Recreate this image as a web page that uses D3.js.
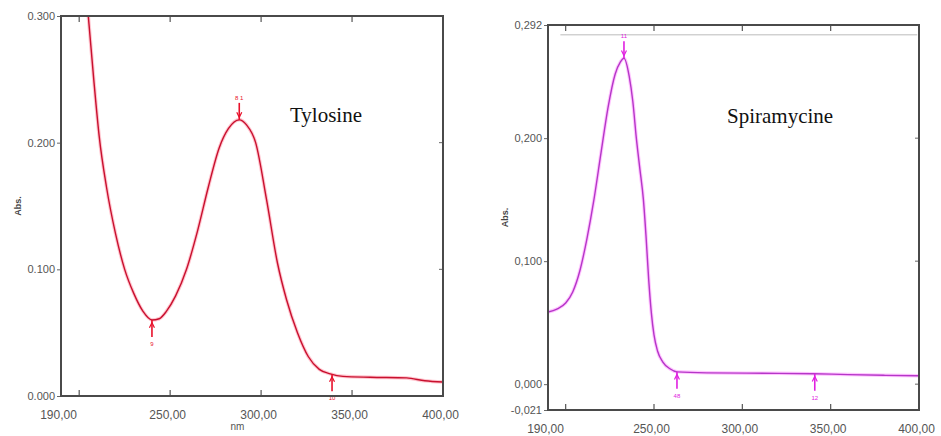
<!DOCTYPE html>
<html><head><meta charset="utf-8">
<script src="https://cdn.jsdelivr.net/npm/d3@7/dist/d3.min.js"></script>
<style>
body{margin:0;background:#fff;}
svg{display:block;}
.tick text{font-family:Arial,"Liberation Sans",sans-serif;fill:#555;}
</style></head>
<body>
<svg id="c" width="941" height="436"></svg>
<script>
// ---- data ----
const xTicks = [190, 250, 300, 350, 400];
const xMinorTicks = [200, 250, 300, 350];

const tylNm  = [200, 205, 208, 211, 215, 220, 225, 230, 235, 240, 244, 248, 253, 259, 265, 271, 277, 282, 288, 292, 297, 303, 309, 314, 320, 326, 332, 338, 345, 360, 380, 390, 400];
const tylAbs = [0.37, 0.300, 0.250, 0.205, 0.165, 0.128, 0.100, 0.081, 0.067, 0.060, 0.061, 0.067, 0.079, 0.100, 0.130, 0.165, 0.196, 0.211, 0.218, 0.214, 0.200, 0.155, 0.105, 0.076, 0.050, 0.031, 0.021, 0.0175, 0.0155, 0.0148, 0.0143, 0.012, 0.011];
const tylYTicks = [0, 0.1, 0.2, 0.3];

const spiNm  = [190, 195, 200, 204, 208, 212, 216, 220, 224, 228, 231, 233, 236, 238, 240, 242, 244, 245.5, 247, 248.5, 250, 252, 255, 259, 263, 280, 320, 340, 360, 380, 400];
const spiAbs = [0.0586, 0.061, 0.066, 0.075, 0.092, 0.118, 0.150, 0.188, 0.225, 0.252, 0.262, 0.265, 0.250, 0.230, 0.200, 0.175, 0.150, 0.120, 0.085, 0.058, 0.040, 0.027, 0.018, 0.0125, 0.0100, 0.0092, 0.0088, 0.0085, 0.0078, 0.0072, 0.0068];
const spiYTicks = [-0.021, 0, 0.1, 0.2, 0.292];

// peak / valley markers: [nm, direction(-1 up, 1 down), label]
const tylMarks = [[240, 1, "9"], [288, -1, "8 1"], [339, 1, "10"]];
const spiMarks = [[233, -1, "11"], [263, 1, "48"], [341, 1, "12"]];

const svg = d3.select("#c");

function panel(opt){
  const g = svg.append("g");
  const x = d3.scaleLinear().domain([190, 400]).range([opt.l, opt.r]);
  const y = d3.scaleLinear().domain(opt.yDom).range([opt.b, opt.t]);
  const id = "clip" + opt.name;
  svg.append("clipPath").attr("id", id).append("rect")
     .attr("x", opt.l).attr("y", opt.t).attr("width", opt.r - opt.l).attr("height", opt.b - opt.t);

  // axes
  const ax = g.append("g").attr("transform", `translate(0,${opt.b})`)
    .call(d3.axisBottom(x).tickValues(xTicks).tickSize(0).tickPadding(14)
      .tickFormat(d => d3.format(".2f")(d).replace(".", ",")));
  ax.select(".domain").remove();
  ax.selectAll("text").attr("font-size", 12).attr("dx", -3);

  const ay = g.append("g").attr("transform", `translate(${opt.l},0)`)
    .call(d3.axisLeft(y).tickValues(opt.yTicks).tickSize(4).tickPadding(2)
      .tickFormat(d => { let s = d3.format(".3f")(d).replace("−","-"); return opt.comma ? s.replace(".", ",") : s; }));
  ay.select(".domain").remove();
  ay.selectAll("text").attr("font-size", 11);
  ay.selectAll("line").attr("stroke", "#666");

  // right-side small ticks
  g.selectAll(".rt").data(opt.yTicks.filter(v => v > opt.yDom[0] && v < opt.yDom[1])).join("line")
    .attr("x1", opt.r - 4).attr("x2", opt.r).attr("y1", d => y(d)).attr("y2", d => y(d))
    .attr("stroke", "#666");
  // inner x ticks top and bottom
  g.selectAll(".bt").data(xMinorTicks).join("line")
    .attr("x1", d => x(d)).attr("x2", d => x(d)).attr("y1", opt.b).attr("y2", opt.b - 6)
    .attr("stroke", "#555").attr("stroke-width", 1.2);
  g.selectAll(".tt").data(xMinorTicks).join("line")
    .attr("x1", d => x(d)).attr("x2", d => x(d)).attr("y1", opt.t).attr("y2", opt.t + 6)
    .attr("stroke", "#555").attr("stroke-width", 1.2);

  if (opt.name === "spi") {
    g.append("line").attr("x1", x(197)).attr("x2", x(399)).attr("y1", y(0.284)).attr("y2", y(0.284))
      .attr("stroke", "#bbb").attr("stroke-width", 1);
  }

  // curve
  const data = opt.nm.map((v, i) => [v, opt.abs[i]]);
  const line = d3.line().x(d => x(d[0])).y(d => y(d[1])).curve(d3.curveMonotoneX);
  g.append("path").datum(data)
    .attr("clip-path", `url(#${id})`)
    .attr("fill", "none").attr("stroke", opt.glow).attr("stroke-width", 3.5).attr("stroke-opacity", 0.3)
    .attr("d", line);
  g.append("path").datum(data)
    .attr("clip-path", `url(#${id})`)
    .attr("fill", "none").attr("stroke", opt.color).attr("stroke-width", 1.4)
    .attr("d", line);

  // markers
  const interp = v => { const i = d3.bisectLeft(opt.nm, v); if (i <= 0) return opt.abs[0];
    const t = (v - opt.nm[i-1]) / (opt.nm[i] - opt.nm[i-1]); return opt.abs[i-1] + t * (opt.abs[i] - opt.abs[i-1]); };
  opt.marks.forEach(m => {
    const cx = x(m[0]), cy = y(interp(m[0]));
    const len = 17 * m[1];
    g.append("line").attr("x1", cx).attr("x2", cx).attr("y1", cy).attr("y2", cy + len)
      .attr("stroke", opt.mark).attr("stroke-width", 1.6);
    g.append("path").attr("d", `M${cx-2.5},${cy + len*0.45}L${cx},${cy + len*0.15}L${cx+2.5},${cy + len*0.45}`)
      .attr("fill", "none").attr("stroke", opt.mark).attr("stroke-width", 1.2);
    g.append("text").attr("x", cx).attr("y", cy + len + (m[1] > 0 ? 9 : -3))
      .attr("text-anchor", "middle").attr("font-size", 6).attr("font-family", "Arial, sans-serif")
      .attr("fill", opt.mark).text(m[2]);
  });

  // frame
  g.append("rect").attr("x", opt.l).attr("y", opt.t).attr("width", opt.r - opt.l).attr("height", opt.b - opt.t)
    .attr("fill", "none").attr("stroke", "#4a4a4a").attr("stroke-width", 2);

  // axis title
  g.append("text").attr("transform", `translate(${opt.l - 40},${(opt.t + opt.b) / 2}) rotate(-90)`)
    .attr("text-anchor", "middle").attr("font-size", 9).attr("font-weight", "bold")
    .attr("font-family", "Arial, sans-serif").attr("fill", "#444").text("Abs.");

  // name
  g.append("text").attr("x", opt.lx).attr("y", opt.ly).attr("font-family", "'Liberation Serif','Times New Roman',serif")
    .attr("font-size", 21).attr("fill", "#111").text(opt.label);
  return {x, y};
}

const p1 = panel({name:"tyl", l:61, r:443, t:16, b:396, yDom:[0, 0.3], yTicks:tylYTicks, comma:false,
  nm:tylNm, abs:tylAbs, color:"#c8102e", glow:"#ff4060", mark:"#e8102a", marks:tylMarks, label:"Tylosine", lx:290, ly:122});
svg.append("text").attr("x", p1.x(287)).attr("y", 430).attr("text-anchor", "middle")
  .attr("font-size", 10).attr("font-family", "Arial, sans-serif").attr("fill", "#555").text("nm");

panel({name:"spi", l:548, r:919, t:25, b:410, yDom:[-0.021, 0.292], yTicks:spiYTicks, comma:true,
  nm:spiNm, abs:spiAbs, color:"#b536c8", glow:"#ff40ff", mark:"#e020e0", marks:spiMarks, label:"Spiramycine", lx:727, ly:123});
</script>
</body></html>
